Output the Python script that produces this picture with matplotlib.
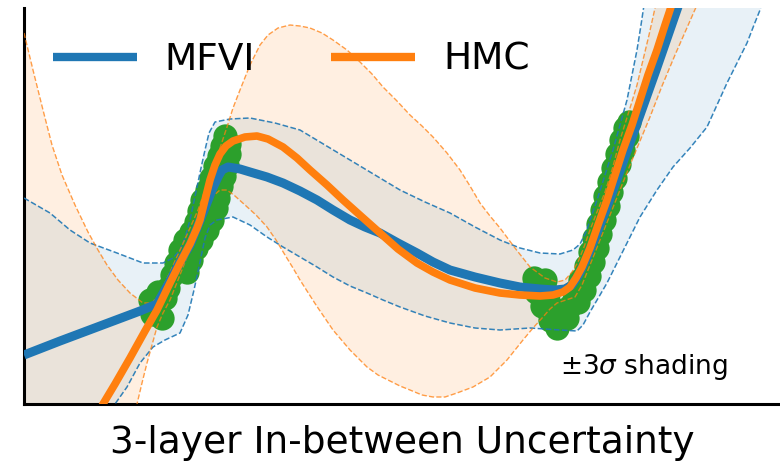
import matplotlib
matplotlib.use("Agg")
import matplotlib.pyplot as plt

# ---------------------------------------------------------------------------
# Predictive curves (x, y in plot units)
# ---------------------------------------------------------------------------
hmc_mean_x = [76, 79, 91, 106, 121, 133, 146, 156, 166, 173, 176, 181, 186, 191, 196,
              202, 209, 221, 233, 244, 259, 273, 286, 303, 319, 338, 356, 374, 393,
              409, 426, 451, 476, 496, 516, 529, 539, 546, 552, 558, 566, 574, 583,
              591, 599, 608, 616, 624, 633, 641, 648, 651]
hmc_mean_y = [-6, 0, 20, 46, 73, 94, 121, 141, 160, 176, 184, 204, 224, 239, 250,
              258, 263, 267, 268, 265, 257, 246, 234, 219, 204, 187, 171, 155, 141,
              132, 124, 116, 111, 109, 108, 109, 112, 117, 126, 137, 156, 179, 204,
              229, 254, 279, 304, 329, 354, 379, 400, 408]

hmc_upper_x = [0, 9, 19, 28, 38, 51, 64, 74, 83, 94, 106, 119, 128, 136, 146, 156, 166,
               174, 181, 188, 196, 203, 209, 216, 226, 236, 244, 254, 266, 276, 286,
               298, 309, 323, 336, 348, 359, 373, 386, 398, 409, 423, 436, 446, 456,
               466, 476, 491, 506, 521, 533, 541, 548, 554, 560, 566, 573, 581, 588,
               596, 606, 613, 619, 625, 631, 633]
hmc_upper_y = [371, 334, 294, 259, 229, 199, 172, 154, 139, 124, 111, 101, 101, 111,
               132, 154, 176, 194, 214, 234, 256, 277, 296, 314, 339, 359, 369, 376,
               379, 378, 376, 371, 364, 354, 342, 330, 317, 303, 289, 278, 267, 251,
               234, 218, 201, 188, 176, 156, 137, 126, 122, 124, 132, 142, 157, 174,
               192, 212, 234, 264, 296, 319, 344, 369, 396, 407]

hmc_lower_x = [0, 56, 96, 113, 118, 123, 128, 133, 139, 146, 154, 161, 169, 176, 183,
               189, 196, 203, 211, 221, 232, 243, 252, 261, 269, 276, 292, 309, 326,
               343, 354, 366, 376, 386, 398, 409, 421, 433, 449, 466, 483, 499, 509,
               519, 526, 533, 542, 551, 558, 566, 576, 586, 596, 606, 616, 626, 638,
               651, 662, 673, 676]
hmc_lower_y = [-296, -116, -36, 0, 21, 41, 59, 77, 91, 104, 124, 142, 161, 179, 196,
               208, 214, 214, 208, 199, 189, 177, 164, 149, 136, 124, 99, 74, 54, 37,
               29, 23, 18, 14, 9, 7, 7, 11, 17, 27, 44, 64, 76, 87, 95, 101, 104, 107,
               119, 139, 164, 189, 214, 239, 263, 287, 318, 349, 374, 399, 408]

mfvi_mean_x = [0, 36, 76, 116, 133, 146, 156, 166, 173, 181, 188, 194, 198, 204, 216,
               226, 243, 259, 276, 293, 309, 326, 341, 356, 374, 393, 409, 426, 451,
               476, 496, 516, 531, 541, 548, 554, 561, 571, 581, 591, 601, 611, 621,
               631, 639, 648, 656]
mfvi_mean_y = [49, 63, 78, 93, 100, 123, 142, 159, 176, 196, 214, 227, 234, 237, 235,
               232, 227, 221, 213, 204, 194, 184, 177, 171, 161, 151, 142, 134, 127,
               121, 117, 115, 114, 115, 119, 128, 142, 166, 192, 219, 247, 275, 303,
               331, 354, 380, 403]

mfvi_upper_x = [0, 26, 46, 66, 93, 119, 139, 149, 156, 161, 166, 173, 177, 181, 185,
                191, 206, 226, 251, 276, 301, 326, 351, 376, 401, 426, 451, 476, 496,
                516, 536, 549, 556, 562, 573, 581, 589, 596, 603, 608, 613, 617, 620,
                621]
mfvi_upper_y = [206, 191, 174, 161, 151, 141, 141, 146, 154, 166, 184, 217, 236, 254,
                271, 282, 285, 286, 281, 274, 259, 244, 229, 214, 202, 191, 177, 164,
                156, 151, 150, 154, 160, 172, 204, 229, 254, 279, 304, 329, 354, 379,
                399, 409]

mfvi_lower_x = [0, 46, 91, 103, 116, 129, 141, 156, 164, 170, 176, 181, 186, 193, 209,
                226, 243, 259, 276, 293, 309, 326, 343, 359, 376, 401, 426, 451, 476,
                506, 536, 553, 559, 566, 576, 583, 596, 616, 633, 649, 666, 683, 693,
                703, 713, 723, 730, 736, 739]
mfvi_lower_y = [-196, -76, 0, 17, 41, 57, 64, 71, 89, 114, 142, 166, 179, 184, 187,
                179, 167, 157, 147, 137, 127, 118, 111, 104, 97, 88, 81, 76, 74, 76,
                74, 73, 79, 92, 109, 121, 147, 187, 214, 237, 256, 277, 299, 321, 341,
                361, 379, 394, 406]

# Observed training points (two clusters)
obs_x = [126, 134, 141, 128, 138, 133, 144,
         148, 163, 152, 167, 156, 172, 161, 177, 167, 183, 172, 188, 175, 192, 178, 194,
         183, 197, 187, 200, 191, 203, 195, 205, 198, 205, 201,
         510, 521, 512, 524, 518, 529, 526, 536, 533, 543, 546, 554, 550, 560, 556, 565,
         562, 569, 566, 573, 570, 576, 574, 580, 578, 584, 581, 587, 585, 591, 589, 595,
         593, 599, 597, 603, 601, 605]
obs_y = [104, 112, 106, 90, 86, 98, 116,
         129, 132, 141, 144, 154, 156, 164, 164, 172, 174, 182, 184, 193, 196, 204, 206,
         214, 218, 226, 228, 238, 239, 248, 250, 258, 260, 268,
         126, 124, 112, 110, 98, 96, 84, 82, 76, 86, 98, 102, 112, 114, 124, 128,
         138, 142, 152, 156, 166, 170, 180, 184, 194, 198, 208, 212, 222, 226, 236, 240,
         250, 254, 264, 268, 276, 282]

BLUE = "#1f77b4"
ORANGE = "#ff7f0e"
GREEN = "#2ca02c"

fig = plt.figure(figsize=(7.8, 4.65), dpi=100)
ax = fig.add_axes([24 / 780, 61 / 465, 756 / 780, 396 / 465])

# Shaded +/- 3 sigma regions
ax.fill(mfvi_upper_x + mfvi_lower_x[::-1], mfvi_upper_y + mfvi_lower_y[::-1],
        color=BLUE, alpha=0.1, lw=0, zorder=1)
ax.fill(hmc_upper_x + hmc_lower_x[::-1], hmc_upper_y + hmc_lower_y[::-1],
        color=ORANGE, alpha=0.12, lw=0, zorder=1)

# Training data
ax.plot(obs_x, obs_y, "o", color=GREEN, ms=17.5, mew=0, zorder=2)

# Band edges
ax.plot(mfvi_upper_x, mfvi_upper_y, "--", color=BLUE, lw=1.1, alpha=0.9, zorder=3)
ax.plot(mfvi_lower_x, mfvi_lower_y, "--", color=BLUE, lw=1.1, alpha=0.9, zorder=3)
ax.plot(hmc_upper_x, hmc_upper_y, "--", color=ORANGE, lw=1.0, alpha=0.75, zorder=3)
ax.plot(hmc_lower_x, hmc_lower_y, "--", color=ORANGE, lw=1.0, alpha=0.75, zorder=3)

# Predictive means
ax.plot(mfvi_mean_x, mfvi_mean_y, color=BLUE, lw=6.5, label="MFVI", zorder=4,
        solid_capstyle="butt", solid_joinstyle="round")
ax.plot(hmc_mean_x, hmc_mean_y, color=ORANGE, lw=5.5, label="HMC", zorder=5,
        solid_capstyle="butt", solid_joinstyle="round")

ax.set_xlim(0, 756)
ax.set_ylim(0, 396)
ax.set_xticks([])
ax.set_yticks([])
for side in ("top", "right"):
    ax.spines[side].set_visible(False)
for side in ("left", "bottom"):
    ax.spines[side].set_linewidth(2.2)
    ax.spines[side].set_color("black")

leg = ax.legend(loc="center left", bbox_to_anchor=(0.038, 0.869), ncol=2,
                frameon=False, fontsize=27, handlelength=2.24, handletextpad=0.75,
                columnspacing=2.03, borderpad=0, borderaxespad=0)
for line in leg.get_lines():
    line.set_linewidth(6)

ax.text(0.709, 0.093, r"$\pm3\sigma$ shading", transform=ax.transAxes,
        ha="left", va="center", fontsize=19)
ax.set_xlabel("3-layer In-between Uncertainty", fontsize=27, labelpad=15)

fig.savefig("out.png", dpi=100)
